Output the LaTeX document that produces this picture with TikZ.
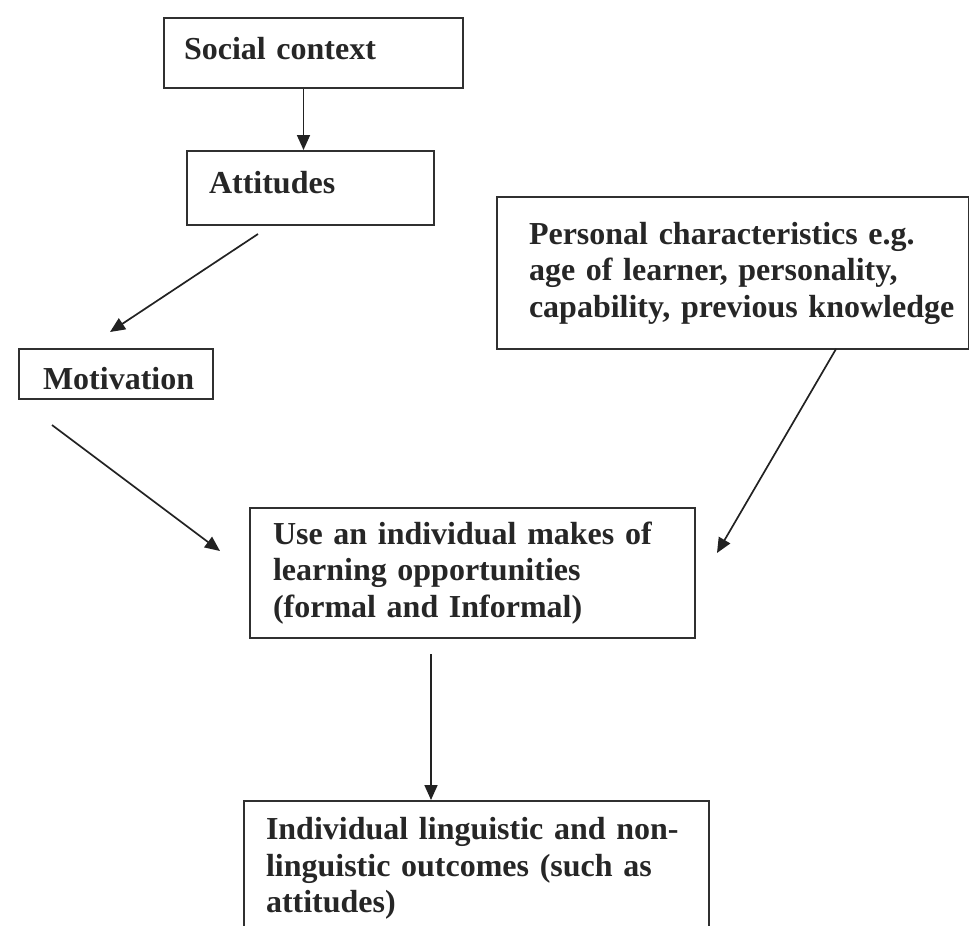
\documentclass[tikz,border=0pt]{standalone}
\usepackage{fontspec}
\setmainfont{Liberation Serif}
\usetikzlibrary{arrows.meta,calc}
\definecolor{txtcol}{HTML}{262626}
\definecolor{boxcol}{HTML}{303030}
\definecolor{arrcol}{HTML}{222222}
\begin{document}
\begin{tikzpicture}[x=1pt,y=-1pt,
  box/.style={draw=boxcol, line width=2pt, anchor=north west, inner ysep=0pt,
    font=\fontsize{32}{36.5}\selectfont\bfseries, text=txtcol, align=left},
  conn/.style={draw=arrcol, line width=1.7pt, -{Triangle[length=15pt,width=13pt]}}]
\useasboundingbox (0,0) rectangle (969,926);
\clip (0,0) rectangle (969,926);

\node[box, inner xsep=20pt, text width=259pt, minimum height=70pt,
      text height=22pt, text depth=10pt] (soc) at (163,17) {Social context};
\node[box, inner xsep=22pt, text width=203pt, minimum height=74pt,
      text height=22pt, text depth=12pt] (att) at (186,150) {Attitudes};
\node[box, inner xsep=24pt, text width=146pt, minimum height=50pt,
      text height=30pt, text depth=0pt] (mot) at (18,348) {\mbox{Motivation}};
\node[box, inner xsep=32pt, text width=408pt, minimum height=152pt] (pers) at (496,196)
  {\mbox{Personal characteristics e.g.}\\ \mbox{age of learner, personality,}\\ \mbox{capability, previous knowledge}};
\node[box, inner xsep=23pt, text width=399pt, minimum height=130pt] (use) at (249,507)
  {\mbox{Use an individual makes of}\\ \mbox{learning opportunities}\\ \mbox{(formal and Informal)}};
\node[box, inner xsep=22pt, text width=421pt, minimum height=135pt] (out) at (243,800)
  {\mbox{Individual linguistic and non-}\\ \mbox{linguistic outcomes (such as}\\ \mbox{attitudes)}};

\coordinate (c1s) at ([xshift=-10pt]soc.south);
\coordinate (c2s) at ([shift={(72,8)}]att.south west);
\coordinate (c2e) at ([shift={(92,-16)}]mot.north west);
\coordinate (c3s) at ([shift={(34,25)}]mot.south west);
\coordinate (c3e) at ([shift={(-29,-22)}]use.west);
\coordinate (c4s) at ([shift={(103,-1)}]pers.south);
\coordinate (c4e) at ([shift={(21,-20)}]use.east);
\coordinate (c5s) at ([shift={(-41.5,15)}]use.south);

\draw[conn] (c1s) -- (c1s |- att.north);
\draw[conn] (c2s) -- (c2e);
\draw[conn] (c3s) -- (c3e);
\draw[conn] (c4s) -- (c4e);
\draw[conn] (c5s) -- (c5s |- out.north);
\end{tikzpicture}
\end{document}
